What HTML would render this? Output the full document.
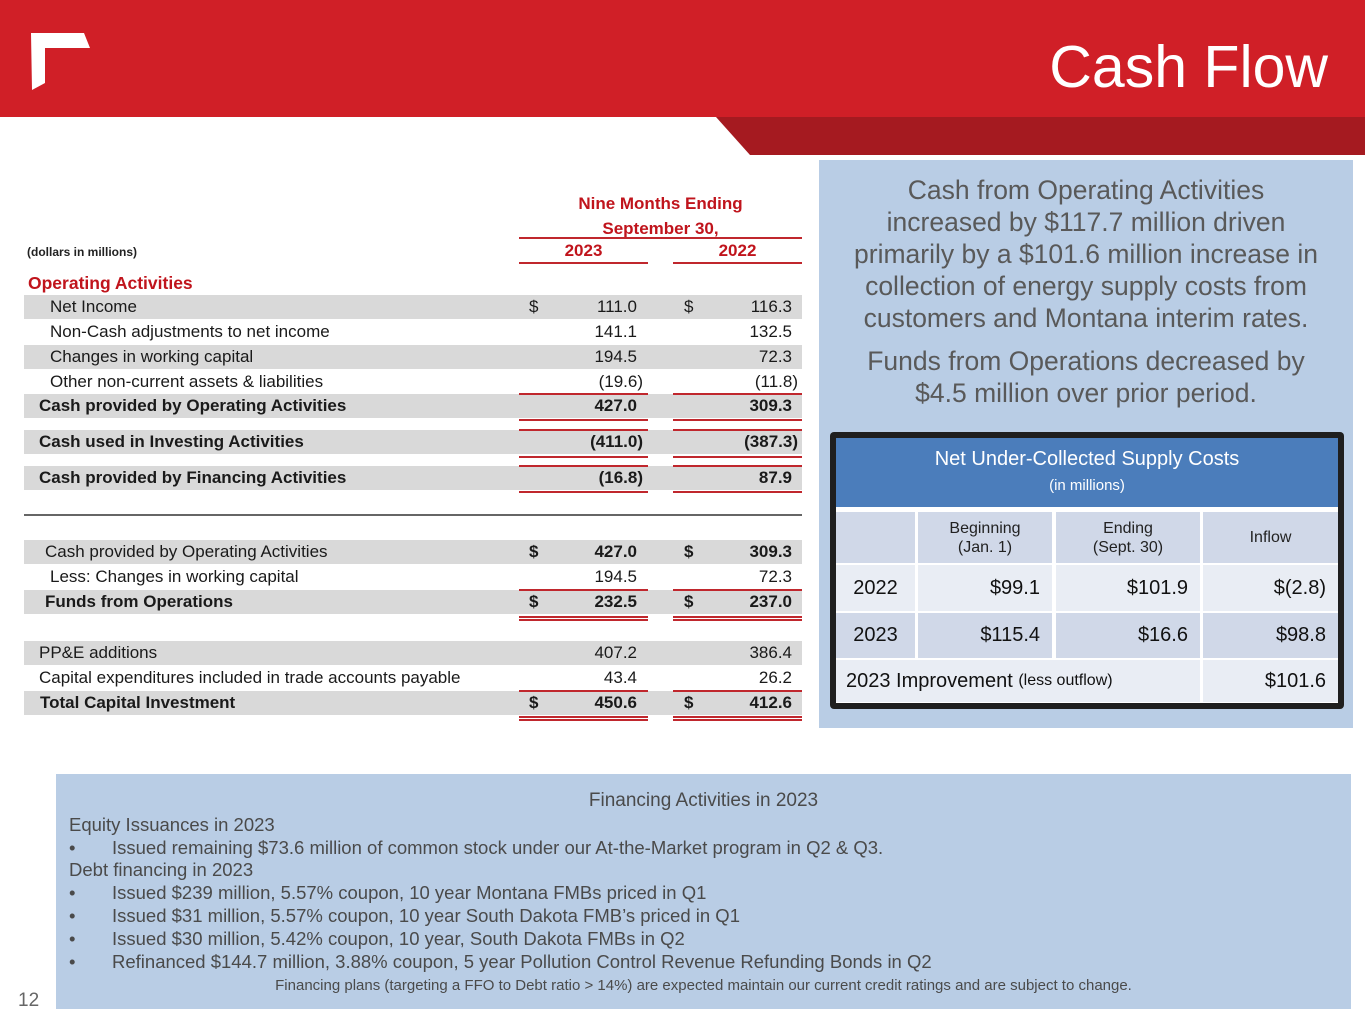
<!DOCTYPE html>
<html><head><meta charset="utf-8">
<style>
*{margin:0;padding:0;box-sizing:border-box}
body{width:1365px;height:1024px;position:relative;background:#fff;font-family:"Liberation Sans",sans-serif;overflow:hidden}
.a{position:absolute;white-space:nowrap}
.n{font-family:"Liberation Sans Narrow","Liberation Sans",sans-serif}
.row{position:absolute;left:24px;width:778px;height:24px}
.sh{background:#d9d9d9}
.lbl{position:absolute;top:2px;font-size:17px;color:#1a1a1a;font-family:"Liberation Sans Narrow","Liberation Sans",sans-serif}
.v{position:absolute;top:2px;font-size:17px;color:#1a1a1a;text-align:right;font-family:"Liberation Sans Narrow","Liberation Sans",sans-serif}
.b{font-weight:bold}
.rl{position:absolute;height:2px;background:#c0272d}
.panel{color:#595959;font-size:26.5px;text-align:center;width:534px;left:819px}
.c{position:absolute;display:flex;align-items:center;font-size:20px;color:#111}
.bt{position:absolute;font-size:18.5px;color:#4a4a4a;white-space:nowrap}
</style></head><body>
<div class="a" style="left:0;top:0;width:1365px;height:117px;background:#d01f27"></div>
<svg class="a" style="left:0;top:117px" width="1365" height="40"><polygon points="716,0 1365,0 1365,38 750,38" fill="#a51a20"/></svg>
<svg class="a" style="left:28px;top:30px" width="66" height="64"><polygon points="3,3 56,3 62,18 17,18 17,53 4,60" fill="#fff"/></svg>
<div class="a" style="right:37px;top:33px;font-size:59px;color:#fff">Cash Flow</div>

<div class="a n b" style="left:519px;width:283px;text-align:center;top:191px;font-size:17px;color:#c0141c;line-height:25px">Nine Months Ending<br>September 30,</div>
<div class="rl" style="left:519px;width:283px;top:237px"></div>
<div class="a n b" style="left:519px;width:129px;text-align:center;top:241px;font-size:17px;color:#c0141c">2023</div>
<div class="a n b" style="left:673px;width:129px;text-align:center;top:241px;font-size:17px;color:#c0141c">2022</div>
<div class="rl" style="left:519px;width:129px;top:262px"></div>
<div class="rl" style="left:673px;width:129px;top:262px"></div>
<div class="a n b" style="left:27px;top:245px;font-size:12px;color:#222">(dollars in millions)</div>
<div class="a n b" style="left:28px;top:273px;font-size:17.5px;color:#c0141c">Operating Activities</div>
<div id="lt"></div>
<div class="a" style="left:24px;top:514px;width:778px;height:2px;background:#666"></div>

<div class="a" style="left:819px;top:160px;width:534px;height:568px;background:#b9cde5"></div>
<div class="a panel" style="top:174px;line-height:32px">Cash from Operating Activities<br>increased by $117.7 million driven<br>primarily by a $101.6 million increase in<br>collection of energy supply costs from<br>customers and Montana interim rates.</div>
<div class="a panel" style="top:345px;line-height:32px">Funds from Operations decreased by<br>$4.5 million over prior period.</div>

<div class="a" style="left:830px;top:432px;width:514px;height:277px;background:#1f1f1f;border-radius:4px"></div>
<div class="a" style="left:836px;top:438px;width:502px;height:69px;background:#4b7dbb;color:#fff;text-align:center">
<div style="font-size:20px;margin-top:10px">Net Under-Collected Supply Costs</div><div style="font-size:15px;margin-top:6px">(in millions)</div></div>
<div class="a" style="left:836px;top:507px;width:502px;height:196px;background:#fff"></div>
<div id="st"></div>

<div class="a" style="left:56px;top:774px;width:1295px;height:235px;background:#b9cde5"></div>
<div class="bt" style="left:56px;width:1295px;text-align:center;top:790px;font-size:19px">Financing Activities in 2023</div>
<div class="bt" style="left:69px;top:814px">Equity Issuances in 2023</div>
<div class="bt" style="left:69px;top:837px">•<span style="position:absolute;left:43px">Issued remaining $73.6 million of common stock under our At-the-Market program in Q2 &amp; Q3.</span></div>
<div class="bt" style="left:69px;top:859px">Debt financing in 2023</div>
<div class="bt" style="left:69px;top:882px">•<span style="position:absolute;left:43px">Issued $239 million, 5.57% coupon, 10 year Montana FMBs priced in Q1</span></div>
<div class="bt" style="left:69px;top:905px">•<span style="position:absolute;left:43px">Issued $31 million, 5.57% coupon, 10 year South Dakota FMB’s priced in Q1</span></div>
<div class="bt" style="left:69px;top:928px">•<span style="position:absolute;left:43px">Issued $30 million, 5.42% coupon, 10 year, South Dakota FMBs in Q2</span></div>
<div class="bt" style="left:69px;top:951px">•<span style="position:absolute;left:43px">Refinanced $144.7 million, 3.88% coupon, 5 year Pollution Control Revenue Refunding Bonds in Q2</span></div>
<div class="bt" style="left:56px;width:1295px;text-align:center;top:977px;font-size:15px">Financing plans (targeting a FFO to Debt ratio &gt; 14%) are expected maintain our current credit ratings and are subject to change.</div>
<div class="a" style="left:18px;top:990px;font-size:19px;color:#666">12</div>

<script>
const rowLabels=["Net Income","Non-Cash adjustments to net income","Changes in working capital","Other non-current assets & liabilities","Cash provided by Operating Activities","Cash used in Investing Activities","Cash provided by Financing Activities","Cash provided by Operating Activities","Less: Changes in working capital","Funds from Operations","PP&E additions","Capital expenditures included in trade accounts payable","Total Capital Investment"];
const vals2023=["111.0","141.1","194.5","(19.6)","427.0","(411.0)","(16.8)","427.0","194.5","232.5","407.2","43.4","450.6"];
const vals2022=["116.3","132.5","72.3","(11.8)","309.3","(387.3)","87.9","309.3","72.3","237.0","386.4","26.2","412.6"];
const tops=[295,320,345,370,394,430,466,540,565,590,641,666,691];
const shaded=[1,0,1,0,1,1,1,1,0,1,1,0,1];
const bold=[0,0,0,0,1,1,1,0,0,1,0,0,1];
const indent=[26,26,26,26,15,15,15,21,26,21,15,15,16];
const dollar=[1,0,0,0,0,0,0,2,0,2,0,0,2];
const lt=document.getElementById('lt');
rowLabels.forEach((l,i)=>{
  const r=document.createElement('div');
  r.className='row'+(shaded[i]?' sh':'');
  r.style.top=tops[i]+'px';
  
  
  const b=bold[i]||dollar[i]===2?' b':'';
  const neg1=vals2023[i].startsWith('(')?6:0, neg2=vals2022[i].startsWith('(')?6:0;
  r.innerHTML=`<span class="lbl${bold[i]?' b':''}" style="left:${indent[i]}px"></span>`+
   (dollar[i]?`<span class="v${b}" style="left:505px">$</span><span class="v${b}" style="left:660px">$</span>`:'')+
   `<span class="v${b}" style="right:${165-neg1}px"></span><span class="v${b}" style="right:${10-neg2}px"></span>`;
  const s=r.querySelectorAll('span');
  s[0].textContent=l;
  s[s.length-2].textContent=vals2023[i];
  s[s.length-1].textContent=vals2022[i];
  lt.appendChild(r);
});
const ruleTops=[393,419,429,456,465,491,589,616,619,690,716,719];
ruleTops.forEach(t=>{
  [519,673].forEach(x=>{
    const d=document.createElement('div');
    d.className='rl';
    
    
    d.style.cssText=`left:${x}px;width:129px;top:${t}px;height:2px`;
    lt.appendChild(d);
  });
});
const colX=[836,918,1056,1203], colW=[79,134,144,135];
const cells=[
 [512,51,'#d0d8e8',["","Beginning<br>(Jan. 1)","Ending<br>(Sept. 30)","Inflow"],'c',16],
 [565,46,'#e9edf4',["2022","$99.1","$101.9","$(2.8)"],'r',20],
 [613,45,'#d0d8e8',["2023","$115.4","$16.6","$98.8"],'r',20]];
const st=document.getElementById('st');
cells.forEach(([t,h,bg,txt,al,fs],ri)=>{
  txt.forEach((x,ci)=>{
    const d=document.createElement('div');
    d.className='c';
    
    
    const center=al==='c'||ci===0;
    d.style.cssText=`left:${colX[ci]}px;top:${t}px;width:${colW[ci]}px;height:${h}px;background:${bg};font-size:${fs}px;line-height:${fs+3}px;text-align:center;justify-content:${center?'center':'flex-end'};padding-right:${center?0:12}px;color:${ri===0?'#222':'#111'}`;
    d.innerHTML=x;
    st.appendChild(d);
  });
});
const imp=document.createElement('div');
imp.className='c';


imp.style.cssText='left:836px;top:660px;width:364px;height:42px;background:#e9edf4;padding-left:10px';
imp.innerHTML='2023 Improvement&nbsp;<span style="font-size:16px">(less outflow)</span>';
st.appendChild(imp);
const iv=document.createElement('div');
iv.className='c';


iv.style.cssText='left:1203px;top:660px;width:135px;height:42px;background:#e9edf4;justify-content:flex-end;padding-right:12px';
iv.textContent='$101.6';
st.appendChild(iv);
</script>
</body></html>
